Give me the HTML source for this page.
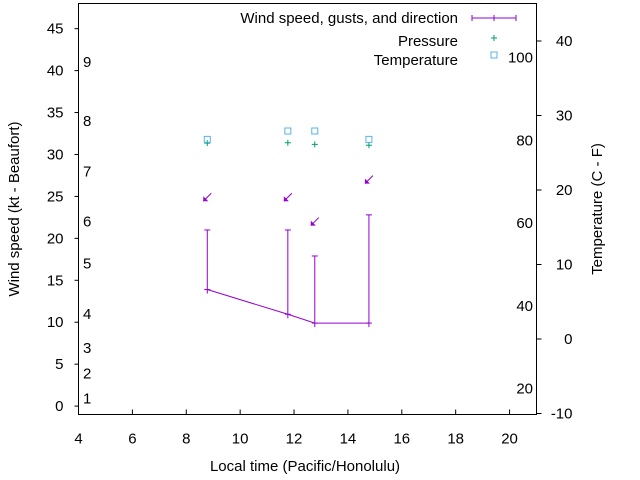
<!DOCTYPE html>
<html><head><meta charset="utf-8"><style>
body{margin:0;background:#fff}
svg{display:block;font-family:"Liberation Sans",sans-serif;font-size:15px}
</style></head><body>
<svg id="c" width="640" height="480"></svg>
<script>
const times=[8.78,11.77,12.77,14.78];
const speeds=[13.9,10.95,9.9,9.9];
const gusts=[21,21,17.9,22.8];
const arrowY=[24.9,24.9,22,27];
const pressure=[31.35,31.4,31.2,31.1];
const temperature=[31.8,32.8,32.8,31.8];
const xTicks=[4,6,8,10,12,14,16,18,20];
const yTicks=[0,5,10,15,20,25,30,35,40,45];
const y2Ticks=[-10,0,10,20,30,40];
const beaufort=[[1,0.9],[2,3.9],[3,6.9],[4,11],[5,17],[6,22],[7,28],[8,34],[9,41]];
const fahr=[20,40,60,80,100];

const L=78.5,R=536.5,T=3.5,B=414.5;
const X=v=>L+(v-4)/17*(R-L);
const Y=v=>B-(v+1)/49*(B-T);
const Y2=c=>339-c*7.45;
const NS="http://www.w3.org/2000/svg";
const svg=document.getElementById('c');
function add(tag,attrs,text){const e=document.createElementNS(NS,tag);for(const k in attrs)e.setAttribute(k,attrs[k]);if(text!==undefined)e.textContent=text;svg.appendChild(e);return e;}

const box=add('rect',{x:L,y:T,width:R-L,height:B-T,fill:'none',stroke:'#000','stroke-width':1});


xTicks.forEach(v=>{
  const t=add('line',{x1:X(v),x2:X(v),y1:B,y2:B-5,stroke:'#000'});
  
  
  const l=add('text',{x:X(v),y:B+29,'text-anchor':'middle'},v);
  
  
});
yTicks.forEach(v=>{
  const t=add('line',{x1:L-4,x2:L,y1:Y(v),y2:Y(v),stroke:'#000'});
  
  
  const l=add('text',{x:L-15,y:Y(v)+5,'text-anchor':'end'},v);
  
  
});
y2Ticks.forEach(v=>{
  const t=add('line',{x1:R,x2:R+5,y1:Y2(v),y2:Y2(v),stroke:'#000'});
  
  
  const l=add('text',{x:R+36,y:Y2(v)+5,'text-anchor':'end'},v);
  
  
});
beaufort.forEach(b=>{
  const l=add('text',{x:83,y:Y(b[1])+5},b[0]);
  
  
});
fahr.forEach(f=>{
  const c=(f-32)*5/9;
  const l=add('text',{x:533,y:Y2(c)+5,'text-anchor':'end'},f);
  
  
});
const purple='#9400d3';
let pts=times.map((t,i)=>X(t)+','+Y(speeds[i])).join(' ');
const pl=add('polyline',{points:pts,fill:'none',stroke:purple,'stroke-width':1});


times.forEach((t,i)=>{
  const x=X(t);
  const g=add('line',{x1:x,x2:x,y1:Y(speeds[i])+4,y2:Y(gusts[i]),stroke:purple});
  
  
  const c=add('line',{x1:x-3,x2:x+3,y1:Y(gusts[i]),y2:Y(gusts[i]),stroke:purple});
  
  
  const s=add('line',{x1:x-3,x2:x+3,y1:Y(speeds[i]),y2:Y(speeds[i]),stroke:purple});
  
  
  const ay=Y(arrowY[i]);
  const a=add('line',{x1:x+4,y1:ay-4,x2:x-4,y2:ay+4,stroke:purple});
  
  
  const h=add('polygon',{points:`${x-4},${ay+4} ${x-4},${ay-1} ${x+1},${ay+4}`,fill:purple});
  
  
  const py=Y(pressure[i]);
  const p=add('path',{d:`M${x-3},${py}H${x+3}M${x},${py-3}V${py+3}`,stroke:'#009e73'});
  
  
  const ty=Y(temperature[i]);
  const q=add('rect',{x:x-3,y:ty-3,width:6,height:6,fill:'none',stroke:'#56b4e9'});
  
  
});
// legend
[['Wind speed, gusts, and direction',18],['Pressure',41],['Temperature',60]].forEach(e=>{
  const l=add('text',{x:458,y:e[1]+5,'text-anchor':'end'},e[0]);
  
  
});
const lg=add('path',{d:'M472,18H516M472,15V21M494,15V21M516,15V21',stroke:purple,fill:'none'});


const lp=add('path',{d:'M491,38H497M494,35V41',stroke:'#009e73'});


const lt=add('rect',{x:491,y:52,width:6,height:6,fill:'none',stroke:'#56b4e9'});


const xt=add('text',{x:305,y:471,'text-anchor':'middle'},'Local time (Pacific/Honolulu)');


const yt=add('text',{x:0,y:0,'text-anchor':'middle',transform:'translate(19,209) rotate(-90)'},'Wind speed (kt - Beaufort)');


const y2t=add('text',{x:0,y:0,'text-anchor':'middle',transform:'translate(602,209) rotate(-90)'},'Temperature (C - F)');


</script>
</body></html>
